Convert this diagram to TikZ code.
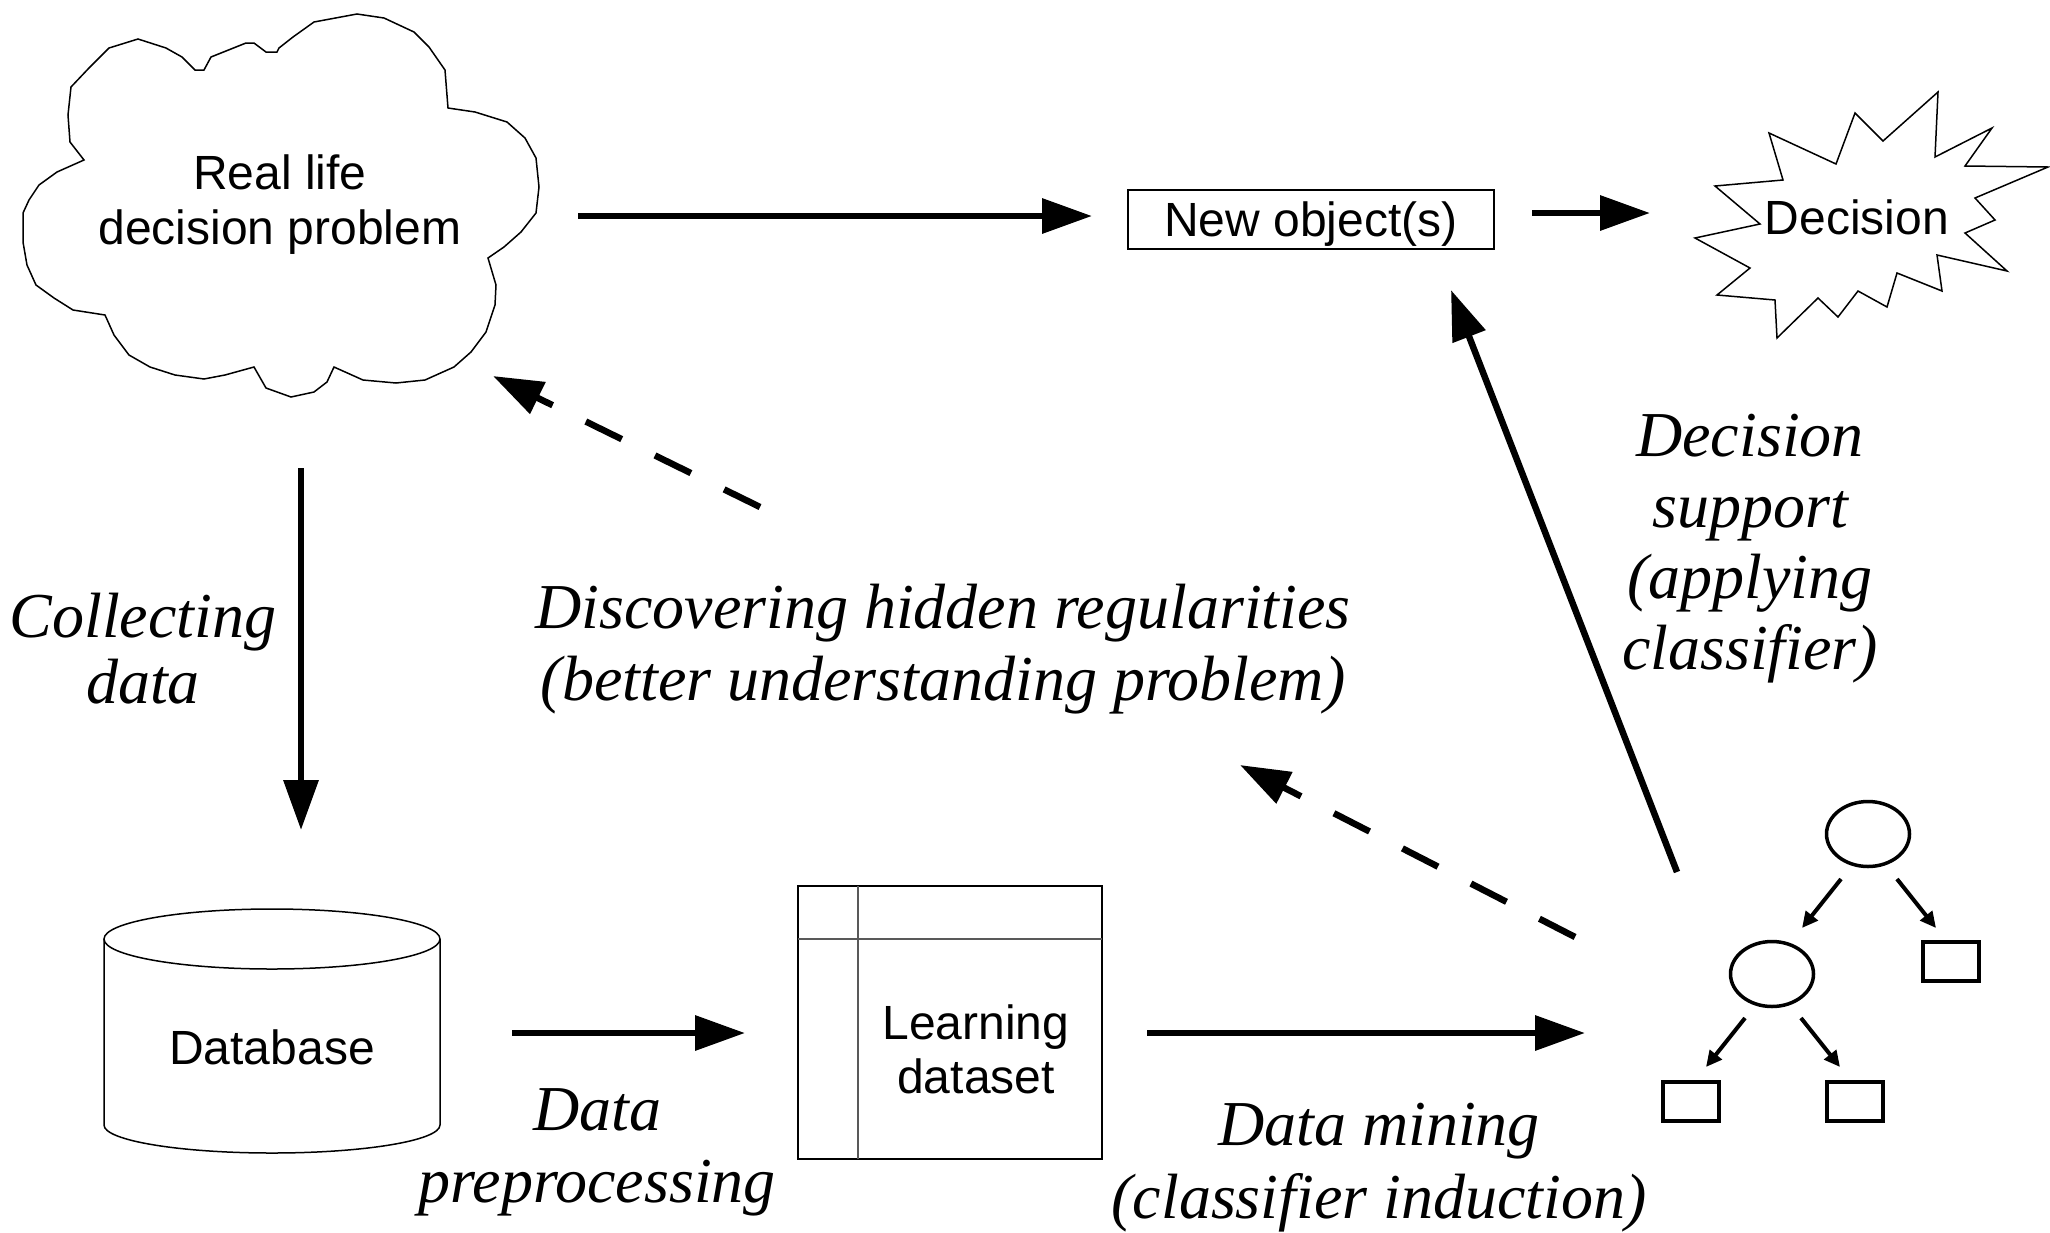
\documentclass[tikz,border=0pt]{standalone}
\usepackage{fontspec}
\setmainfont{Liberation Serif}
\newfontfamily\sansfam{Liberation Sans}
\usetikzlibrary{arrows.meta,shapes.geometric}
\tikzset{
  thinline/.style={line width=1.5, draw=black},
  sanslbl/.style={font=\sansfam\fontsize{48}{55}\selectfont, align=center, inner sep=0},
  itlbl/.style={font=\itshape\fontsize{64}{72}\selectfont, align=center, inner sep=0},
  bigarrow/.style={line width=6.5, -{Triangle[length=50,width=34]}},
  dasharrow/.style={bigarrow, dash pattern=on 40 off 37},
  treearrow/.style={line width=4, -{Triangle[length=16,width=15]}},
  treenode/.style={draw, line width=3.5, ellipse, inner sep=0, minimum width=83, minimum height=65},
  leaf/.style={draw, line width=4, rectangle, inner sep=0, minimum width=56, minimum height=39},
}
\begin{document}
\begin{tikzpicture}[x=1pt,y=-1pt]
\fill[white] (0,0) rectangle (2050,1232);

% cloud
\draw[thinline] (314,22) -- (357,14) -- (384,18) -- (414,32) -- (429,47) -- (445,70) -- (448,108)
 -- (475,112) -- (507,122) -- (525,138) -- (536,158) -- (539,187) -- (536,213) -- (521,232)
 -- (504,247) -- (488,258) -- (496,285) -- (495,305) -- (486,332) -- (471,352) -- (454,367)
 -- (425,380) -- (396,383) -- (363,380) -- (334,367) -- (327,382) -- (314,392) -- (291,397)
 -- (266,388) -- (254,367) -- (225,375) -- (204,379) -- (175,375) -- (150,367) -- (129,355)
 -- (114,335) -- (105,315) -- (73,310) -- (54,298) -- (36,285) -- (27,265) -- (23,242)
 -- (23,213) -- (29,200) -- (39,185) -- (57,172) -- (84,160) -- (70,142) -- (68,115)
 -- (71,87) -- (89,68) -- (109,48) -- (138,39) -- (166,48) -- (182,57) -- (195,70)
 -- (204,70) -- (211,57) -- (246,43) -- (254,43) -- (266,52) -- (277,52) -- (279,48)
 -- (293,37) -- cycle;
\node[sanslbl, anchor=base] (cloud) at (280,244) {Real life\\decision problem};

% new object
\node[thinline, draw, sanslbl, minimum width=366, minimum height=59, text height=34, text depth=0] (newobj) at (1311,219.5) {New object(s)};

% decision starburst
\draw[thinline] (1938,92) -- (1935,157) -- (1992,128) -- (1965,166) -- (2048,167) -- (1975,198)
 -- (1995,220) -- (1965,233) -- (2007,271) -- (1937,255) -- (1942,291) -- (1897,273)
 -- (1887,307) -- (1858,291) -- (1838,317) -- (1818,298) -- (1777,338) -- (1775,300)
 -- (1717,295) -- (1750,268) -- (1695,238) -- (1760,224) -- (1715,186) -- (1783,180)
 -- (1769,133) -- (1836,164) -- (1855,113) -- (1883,141) -- cycle;
\node[sanslbl, anchor=base] (decision) at (1857,234) {Decision};

% database
\draw[thinline] (104,939) -- (104,1125) arc[start angle=180, end angle=0, x radius=168, y radius=28] -- (440,939);
\draw[thinline] (272,939) ellipse[x radius=168, y radius=30];
\node[sanslbl, anchor=base] (db) at (272,1064) {Database};

% learning dataset
\node[thinline, draw, inner sep=0, minimum width=304, minimum height=273] (learn) at (950,1022.5) {};
\draw[line width=1.5, black!65] (858,886) -- (858,1159);
\draw[line width=1.5, black!65] (798,939) -- (1102,939);
\node[sanslbl, font=\sansfam\fontsize{48}{54}\selectfont, anchor=base] (learntxt) at (976,1093) {Learning\\dataset};

% tree
\node[treenode] (t1) at (1868,834) {};
\node[treenode] (t2) at (1772,974) {};
\node[leaf] (l1) at (1950.5,961.5) {};
\node[leaf] (l2) at (1691,1101) {};
\node[leaf] (l3) at (1855,1101) {};
\coordinate (t1a) at (1841,879); \coordinate (t2in) at (1802,928);
\coordinate (t1b) at (1897,879); \coordinate (l1in) at (1936,928);
\coordinate (t2a) at (1745,1018); \coordinate (l2in) at (1706,1067);
\coordinate (t2b) at (1801,1018); \coordinate (l3in) at (1840,1067);
\draw[treearrow] (t1a) -- (t2in);
\draw[treearrow] (t1b) -- (l1in);
\draw[treearrow] (t2a) -- (l2in);
\draw[treearrow] (t2b) -- (l3in);

% main arrows
\coordinate (a1s) at (578,216); \coordinate (a1e) at (1092,216);
\coordinate (a2s) at (1532,213); \coordinate (a2e) at (1650,213);
\coordinate (a3s) at (301,468); \coordinate (a3e) at (301,830);
\coordinate (a4s) at (512,1033); \coordinate (a4e) at (745,1033);
\coordinate (a5s) at (1147,1033); \coordinate (a5e) at (1585,1033);
\coordinate (a6s) at (1677,872); \coordinate (a6e) at (1451,290);
\coordinate (d1s) at (760,507); \coordinate (d1e) at (493,376);
\coordinate (d2s) at (1575,937); \coordinate (d2e) at (1240,765);
\draw[bigarrow] (a1s) -- (a1e);
\draw[bigarrow] (a2s) -- (a2e);
\draw[bigarrow] (a3s) -- (a3e);
\draw[bigarrow] (a4s) -- (a4e);
\draw[bigarrow] (a5s) -- (a5e);
\draw[bigarrow] (a6s) -- (a6e);
\draw[dasharrow] (d1s) -- (d1e);
\draw[dasharrow] (d2s) -- (d2e);

% italic labels (anchor=base is the last line's baseline)
\node[itlbl, font=\itshape\fontsize{64}{66}\selectfont, anchor=base] (collect) at (143,703) {Collecting\\data};
\node[itlbl, anchor=base] (prep) at (597,1202) {Data\\preprocessing};
\node[itlbl, font=\itshape\fontsize{64}{73}\selectfont, anchor=base] (mining) at (1379,1218) {Data mining\\(classifier induction)};
\node[itlbl, font=\itshape\fontsize{64}{71}\selectfont, anchor=base] (support) at (1750,669) {Decision\\support\\(applying\\classifier)};
\node[itlbl, anchor=base] (discover) at (943,700) {Discovering hidden regularities\\(better understanding problem)};
\end{tikzpicture}
\end{document}
